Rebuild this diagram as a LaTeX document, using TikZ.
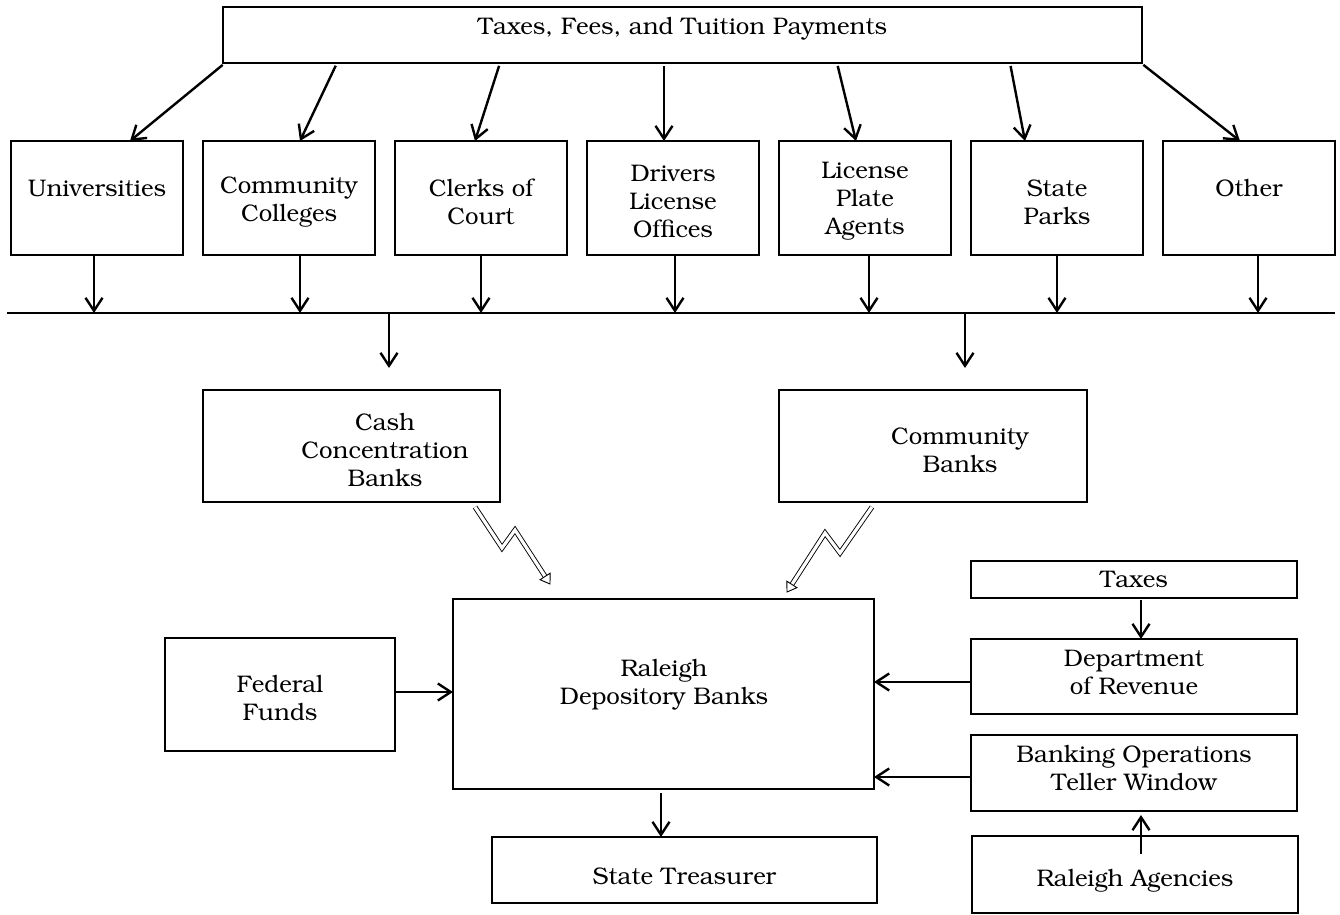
\documentclass[tikz,border=0pt]{standalone}
\usepackage[T1]{fontenc}
\usepackage{bookman}
\usetikzlibrary{arrows.meta,calc}
\begin{document}
\begin{tikzpicture}[x=0.5pt,y=-0.5pt]
\tikzset{
 box/.style={draw, line width=1.4pt, inner sep=0pt, outer sep=0pt},
 txt/.style={align=center, font=\fontsize{12}{14}\selectfont, inner sep=0pt},
 arr/.style={line width=1.2pt, -{Straight Barb[length=6.5pt,width=8.5pt]}},
 busline/.style={line width=1.4pt},
 bolt/.style={double, double distance=1.6pt, line width=0.45pt, line join=miter},
 bolthead/.style={draw, fill=white, line width=0.45pt, line join=miter}
}
\useasboundingbox (0,0) rectangle (1340,915);
% boxes
\node[box, minimum width=459.5pt, minimum height=28pt] (top) at (682.5,35) {};
\node[txt] (top-t) at (682.5,28.5) {Taxes, Fees, and Tuition Payments};
\node[box, minimum width=86pt, minimum height=57pt] (u) at (97,198) {};
\node[box, minimum width=86pt, minimum height=57pt] (cc) at (289,198) {};
\node[box, minimum width=86pt, minimum height=57pt] (coc) at (481,198) {};
\node[box, minimum width=86pt, minimum height=57pt] (dlo) at (673,198) {};
\node[box, minimum width=86pt, minimum height=57pt] (lpa) at (865,198) {};
\node[box, minimum width=86pt, minimum height=57pt] (sp) at (1057,198) {};
\node[box, minimum width=86pt, minimum height=57pt] (oth) at (1249,198) {};
\node[txt] (u-t) at (97,188.5) {Universities};
\node[txt] (cc-t) at (289,202) {Community\\Colleges};
\node[txt] (coc-t) at (481,202) {Clerks of\\Court};
\node[txt] (dlo-t) at (673,201) {Drivers\\License\\Offices};
\node[txt] (lpa-t) at (865,201) {License\\Plate\\Agents};
\node[txt] (sp-t) at (1057,202) {State\\Parks};
\node[txt] (oth-t) at (1249,188.5) {Other};
\node[box, minimum width=148.5pt, minimum height=56pt] (cash) at (351.5,446) {};
\node[txt] (cash-t) at (385,450) {Cash\\Concentration\\Banks};
\node[box, minimum width=154pt, minimum height=56pt] (cb) at (933,446) {};
\node[txt] (cb-t) at (960,450) {Community\\Banks};
\node[box, minimum width=115pt, minimum height=56.5pt] (fed) at (280,694.5) {};
\node[txt] (fed-t) at (280,698) {Federal\\Funds};
\node[box, minimum width=210.5pt, minimum height=95pt] (ral) at (663.5,694) {};
\node[txt] (ral-t) at (664,685) {Raleigh\\Depository Banks};
\node[box, minimum width=192.5pt, minimum height=33pt] (st) at (684.5,870) {};
\node[txt] (st-t) at (684.5,876.5) {State Treasurer};
\node[box, minimum width=163pt, minimum height=18.5pt] (tax) at (1134,579.5) {};
\node[txt] (tax-t) at (1134,579.5) {Taxes};
\node[box, minimum width=163pt, minimum height=37.5pt] (dept) at (1134,676.5) {};
\node[txt] (dept-t) at (1134,672) {Department\\of Revenue};
\node[box, minimum width=163pt, minimum height=38pt] (bank) at (1134,773) {};
\node[txt] (bank-t) at (1134,768) {Banking Operations\\Teller Window};
\node[box, minimum width=163pt, minimum height=38.5pt] (ra) at (1135,874.5) {};
\node[txt] (ra-t) at (1135,881.5) {Raleigh Agencies};
% bus
\coordinate (busL) at (7,313);
\coordinate (busR) at (1335,313);
\coordinate (d1) at (389,368);
\coordinate (d2) at (965,368);
\draw[busline] (busL) -- (busR);
% top to row
\draw[arr, shorten <=1.5pt] (top.south -| 225,0) -- (u.north -| 130,0);
\draw[arr, shorten <=1.5pt] (top.south -| 337,0) -- (cc.north -| 300,0);
\draw[arr, shorten <=1.5pt] (top.south -| 500,0) -- (coc.north -| 475,0);
\draw[arr, shorten <=1.5pt] (top.south -| 664,0) -- (dlo.north -| 664,0);
\draw[arr, shorten <=1.5pt] (top.south -| 837,0) -- (lpa.north -| 856,0);
\draw[arr, shorten <=1.5pt] (top.south -| 1010,0) -- (sp.north -| 1025,0);
\draw[arr, shorten <=1.5pt] (top.south -| 1141,0) -- (oth.north -| 1240,0);
% row to bus
\draw[arr] (u.south -| 94,0) -- (busL -| 94,0);
\draw[arr] (cc.south -| 300,0) -- (busL -| 300,0);
\draw[arr] (coc.south -| 481,0) -- (busL -| 481,0);
\draw[arr] (dlo.south -| 675,0) -- (busL -| 675,0);
\draw[arr] (lpa.south -| 869,0) -- (busL -| 869,0);
\draw[arr] (sp.south -| 1057,0) -- (busL -| 1057,0);
\draw[arr] (oth.south -| 1258,0) -- (busL -| 1258,0);
% bus to banks
\draw[arr] (busL -| d1) -- (d1);
\draw[arr] (busL -| d2) -- (d2);
% lightning bolts
\coordinate (L1) at (475,507);
\coordinate (L2) at (502,548);
\coordinate (L3) at (515,530);
\coordinate (L4) at (550,584);
\coordinate (Lb) at ($(L4)!4.5pt!(L3)$);
\draw[bolt] (L1) -- (L2) -- (L3) -- (Lb);
\path[bolthead] (L4) -- ($(Lb)!3pt!90:(L4)$) -- ($(Lb)!3pt!-90:(L4)$) -- cycle;
\coordinate (R1) at (872,507);
\coordinate (R2) at (840,553);
\coordinate (R3) at (825,533);
\coordinate (R4) at (787,592);
\coordinate (Rb) at ($(R4)!4.5pt!(R3)$);
\draw[bolt] (R1) -- (R2) -- (R3) -- (Rb);
\path[bolthead] (R4) -- ($(Rb)!3pt!90:(R4)$) -- ($(Rb)!3pt!-90:(R4)$) -- cycle;
% lower arrows
\draw[arr] (fed.east |- 0,692) -- (ral.west |- 0,692);
\draw[arr] (dept.west |- 0,682) -- (ral.east |- 0,682);
\draw[arr] (bank.west |- 0,777) -- (ral.east |- 0,777);
\draw[arr, shorten <=1pt] (tax.south -| 1141,0) -- (dept.north -| 1141,0);
\draw[arr, shorten <=-9pt, shorten >=2pt] (ra.north -| 1141,0) -- (bank.south -| 1141,0);
\draw[arr, shorten <=2pt] (ral.south -| 661,0) -- (st.north -| 661,0);
\end{tikzpicture}
\end{document}
